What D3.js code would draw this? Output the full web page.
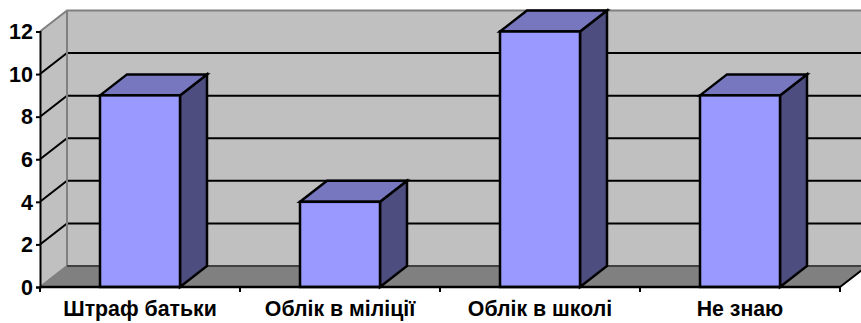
<!DOCTYPE html>
<html><head><meta charset="utf-8">
<script src="https://cdnjs.cloudflare.com/ajax/libs/d3/7.8.5/d3.min.js"></script>
<style>html,body{margin:0;padding:0;background:#fff}svg{display:block}text{font-family:"Liberation Sans",Arial,sans-serif;font-weight:bold;fill:#000}</style>
</head><body><svg id="c" width="861" height="323"></svg>
<script>
const categories = ["Штраф батьки","Облік в міліції","Облік в школі","Не знаю"];
const values = [9,4,12,9];
const yTicks = [0,2,4,6,8,10,12];

const W=861,H=323, x0=40,x1=840,y0=287,y1=31.5, dx=27,dy=-21;
const svg=d3.select("#c");
const x=d3.scaleBand().domain(categories).range([x0,x1]).paddingInner(0.6).paddingOuter(0.3);
const step=d3.scaleBand().domain(categories).range([x0,x1]);
const y=d3.scaleLinear().domain([0,12]).range([y0,y1]);
const line=d3.line();
const poly=p=>line(p)+"Z";

// walls
svg.append("rect").attr("x",x0+dx).attr("y",y1+dy).attr("width",W-x0-dx).attr("height",y0-y1).attr("fill","#c0c0c0");
svg.append("path").attr("d",poly([[x0,y0],[x0,y1],[x0+dx,y1+dy],[x0+dx,y0+dy]])).attr("fill","#c0c0c0");
// floor
svg.append("path").attr("d",poly([[x0,y0],[x0+dx,y0+dy],[x1+dx,y0+dy],[x1,y0]])).attr("fill","#808080");
// grid
const grid=yTicks.filter(d=>d>0&&d<12);
svg.selectAll("path.gb").data(grid).join("path").attr("class","gb")
  .attr("d",d=>line([[x0,y(d)],[x0+dx,y(d)+dy],[W,y(d)+dy]])).attr("fill","none").attr("stroke","#000").attr("stroke-width",2);
// wall edges
const gray="#808080";
svg.append("path").attr("d",line([[x0,y1],[x0+dx,y1+dy],[W,y1+dy]])).attr("fill","none").attr("stroke",gray).attr("stroke-width",2);
svg.append("path").attr("d",line([[x0+dx,y1+dy],[x0+dx,y0+dy]])).attr("fill","none").attr("stroke",gray).attr("stroke-width",2);
svg.append("path").attr("d",line([[x0,y0],[x0+dx,y0+dy]])).attr("fill","none").attr("stroke",gray).attr("stroke-width",2);
svg.append("path").attr("d",line([[x0+dx,y0+dy],[W,y0+dy]])).attr("fill","none").attr("stroke","#404040").attr("stroke-width",2);
svg.append("path").attr("d",line([[x1,y0],[x1+dx,y0+dy]])).attr("fill","none").attr("stroke","#000").attr("stroke-width",2);

// bars
const bars=svg.selectAll("g.bar").data(categories.map((c,i)=>({c,v:values[i]}))).join("g").attr("class","bar")
  .attr("stroke","#000").attr("stroke-width",2.5).attr("stroke-linejoin","miter");
bars.append("path").attr("fill","#4d4d80").attr("d",d=>{const a=x(d.c)+x.bandwidth();
  return poly([[a,y(d.v)],[a+dx,y(d.v)+dy],[a+dx,y0+dy],[a,y0]]);});
bars.append("path").attr("fill","#7777bf").attr("d",d=>{const a=x(d.c),b=a+x.bandwidth();
  return poly([[a,y(d.v)],[a+dx,y(d.v)+dy],[b+dx,y(d.v)+dy],[b,y(d.v)]]);});
bars.append("rect").attr("fill","#9999ff").attr("x",d=>x(d.c)).attr("y",d=>y(d.v)).attr("width",x.bandwidth()).attr("height",d=>y0-y(d.v));

// axes
const ax=svg.append("g").attr("transform",`translate(${x0},0)`).call(d3.axisLeft(y).tickValues(yTicks).tickFormat(d3.format("d")).tickSize(4).tickPadding(3));
ax.selectAll("text").style("font-size","21.5px").style("font-family",'"Liberation Sans",Arial,sans-serif').attr("dy","0.34em");
ax.selectAll("line,path").attr("stroke","#000").attr("stroke-width",2);
const axb=svg.append("g").attr("transform",`translate(0,${y0})`).call(d3.axisBottom(step).tickSize(0).tickPadding(14));
axb.selectAll("text").style("font-size","21.3px").style("font-family",'"Liberation Sans",Arial,sans-serif');
axb.select("path.domain").attr("stroke","#000").attr("stroke-width",2.5).attr("d",line([[x0,0],[x1,0]]));
const edges=[...categories.map(c=>step(c)),x1];
axb.selectAll("line.e").data(edges).join("line").attr("class","e").attr("x1",d=>d).attr("x2",d=>d).attr("y1",0).attr("y2",5).attr("stroke","#000").attr("stroke-width",2);
</script></body></html>
